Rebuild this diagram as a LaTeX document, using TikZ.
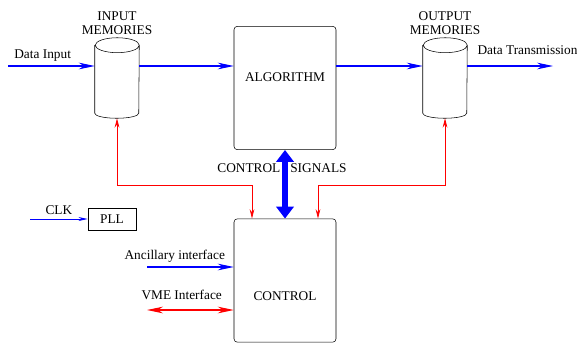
\documentclass[tikz,border=0pt]{standalone}
\usepackage{fontspec}
\setmainfont{Liberation Serif}
\usetikzlibrary{shapes.geometric, arrows.meta, positioning}

\begin{document}
\begin{tikzpicture}[x=0.75pt, y=-0.75pt,
    blk/.style={draw, rounded corners=2.5pt, minimum width=76.5pt,
                minimum height=92.5pt, inner sep=0pt},
    mem/.style={minimum width=33pt, minimum height=60pt, inner sep=0pt},
    ttl/.style={align=center, inner sep=2pt},
    a/.style={-{Stealth[length=12pt, width=5pt]}, draw=blue, line width=0.8pt},
    ta/.style={-{Stealth[length=7pt, width=3pt]}, draw=blue, line width=0.6pt},
    r/.style={{Stealth[length=7pt, width=3.5pt]}-{Stealth[length=7pt, width=3.5pt]},
              draw=red, line width=0.6pt},
    rr/.style={{Stealth[length=12pt, width=5pt]}-{Stealth[length=12pt, width=5pt]},
               draw=red, line width=0.8pt},
    sig/.style={{Triangle[length=9pt, width=13pt]}-{Triangle[length=9pt, width=13pt]},
                draw=blue, line width=5pt}]
  \useasboundingbox (0,0) rectangle (577,343);
  \node[blk, label={[yshift=8.2pt]center:ALGORITHM}] (algo) at (285,88) {};
  \node[blk, label={[yshift=-11.6pt]center:CONTROL}] (ctl) at (285,280.5) {};
  \node[mem] (inmem) at (117,78) {};
  \node[mem] (outmem) at (445,78) {};
  \foreach \m in {inmem,outmem}
    \draw ([yshift=-5.6pt]\m.north west) -- ([yshift=3.75pt]\m.south west)
      arc[start angle=180, end angle=360, x radius=16.5pt, y radius=3.75pt]
      -- ([yshift=-5.6pt]\m.north east)
      arc[start angle=0, end angle=360, x radius=16.5pt, y radius=5.6pt];
  \node[ttl, above=0pt of inmem] (inlbl) {INPUT\\[-1.5pt]MEMORIES};
  \node[ttl, above=0pt of outmem] (outlbl) {OUTPUT\\[-1.5pt]MEMORIES};
  \node[draw, minimum width=36pt, minimum height=16.5pt] (pll) at (112,219) {PLL};
  \node (sigtxt) at (282,168) {CONTROL\hspace{7.5pt}SIGNALS};
  \coordinate (din) at (8,66);
  \coordinate (dout) at (553,66);
  \coordinate (clk) at (30,219);
  \coordinate (anc) at (147,267);
  \coordinate (vme) at (147,310);
  \draw[a] (din) -- (din -| inmem.west) node[pos=0.4, above] {Data Input};
  \draw[a] (din -| inmem.east) -- (din -| algo.west);
  \draw[a] (din -| algo.east) -- (din -| outmem.west);
  \draw[a] (din -| outmem.east) -- (dout)
    node[pos=0, above right, xshift=4pt, yshift=4.5pt] {Data Transmission};
  \draw[r] (inmem.south) -- (inmem.south |- 0,185) -| ([xshift=-24.75pt]ctl.north);
  \draw[r] (outmem.south) -- (outmem.south |- 0,185) -| ([xshift=24.75pt]ctl.north);
  \draw[sig] (algo.south) -- (ctl.north);
  \draw[ta] (clk) -- (pll) node[midway, above] {CLK};
  \draw[a] (anc) -- (anc -| ctl.west) node[pos=0.32, above] {Ancillary interface};
  \draw[rr] (vme) -- (vme -| ctl.west) node[pos=0.4, above, yshift=4pt] {VME Interface};
\end{tikzpicture}
\end{document}
